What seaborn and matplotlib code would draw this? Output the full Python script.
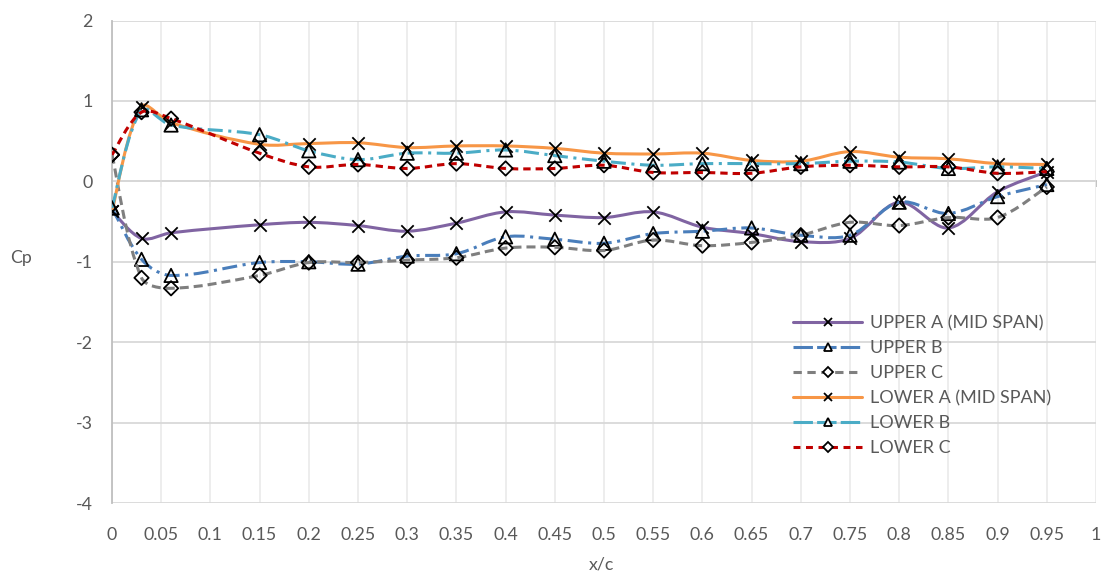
import numpy as np
import pandas as pd
import matplotlib
matplotlib.use("Agg")
import matplotlib.pyplot as plt
import seaborn as sns
from matplotlib.path import Path
from matplotlib.patches import PathPatch
from matplotlib.lines import Line2D

# ---------------- data ----------------
x_c = [0, 0.03, 0.06, 0.15, 0.2, 0.25, 0.3, 0.35, 0.4, 0.45, 0.5,
       0.55, 0.6, 0.65, 0.7, 0.75, 0.8, 0.85, 0.9, 0.95]

upper_a = [-0.37, -0.71, -0.64, -0.54, -0.51, -0.55, -0.62, -0.52, -0.38, -0.42, -0.45,
           -0.38, -0.57, -0.65, -0.75, -0.71, -0.26, -0.58, -0.13, 0.12]
upper_b = [-0.33, -0.97, -1.17, -1.01, -1.00, -1.03, -0.93, -0.90, -0.69, -0.72, -0.77,
           -0.65, -0.62, -0.58, -0.67, -0.67, -0.26, -0.40, -0.19, -0.04]
upper_c = [0.33, -1.20, -1.33, -1.17, -1.01, -1.01, -0.98, -0.95, -0.83, -0.82, -0.86,
           -0.73, -0.80, -0.76, -0.67, -0.51, -0.55, -0.45, -0.45, -0.07]
lower_a = [-0.37, 0.93, 0.73, 0.46, 0.47, 0.48, 0.42, 0.44, 0.44, 0.41, 0.35,
           0.34, 0.35, 0.26, 0.25, 0.37, 0.30, 0.28, 0.22, 0.21]
lower_b = [-0.33, 0.89, 0.70, 0.58, 0.38, 0.27, 0.35, 0.35, 0.39, 0.32, 0.25,
           0.20, 0.22, 0.22, 0.22, 0.25, 0.24, 0.16, 0.18, 0.16]
lower_c = [0.33, 0.86, 0.78, 0.35, 0.18, 0.21, 0.16, 0.22, 0.16, 0.16, 0.20,
           0.11, 0.11, 0.10, 0.18, 0.20, 0.18, 0.18, 0.10, 0.12]

series_names = ["UPPER A (MID SPAN)", "UPPER B", "UPPER C",
                "LOWER A (MID SPAN)", "LOWER B", "LOWER C"]
series_values = [upper_a, upper_b, upper_c, lower_a, lower_b, lower_c]

x_ticks = [0, 0.05, 0.1, 0.15, 0.2, 0.25, 0.3, 0.35, 0.4, 0.45, 0.5,
           0.55, 0.6, 0.65, 0.7, 0.75, 0.8, 0.85, 0.9, 0.95, 1]
x_tick_labels = ["0", "0.05", "0.1", "0.15", "0.2", "0.25", "0.3", "0.35", "0.4", "0.45",
                 "0.5", "0.55", "0.6", "0.65", "0.7", "0.75", "0.8", "0.85", "0.9", "0.95", "1"]
y_ticks = [-4, -3, -2, -1, 0, 1, 2]
y_tick_labels = ["-4", "-3", "-2", "-1", "0", "1", "2"]

# ---------------- styles ----------------
colors = ["#8064A2", "#4A7EBB", "#7F7F7F", "#F79646", "#4BACC6", "#C00000"]
dashdot = (0, (10.8, 4.0, 2.2, 4.0))
styles = ["-", dashdot, (0, (6.5, 3.6)), "-", dashdot, (0, (5.3, 3.6))]
legend_styles = ["-", (0, (14.0, 3.0)), (0, (6.0, 4.0)), "-", (0, (14.0, 3.0)), (0, (5.0, 4.0))]
markers = ["x", "^", "D", "x", "^", "D"]
msize = {"x": 8.9, "^": 9.6, "D": 7.3}

sns.set_theme(style="white")
plt.rcParams["font.family"] = ["Lato", "DejaVu Sans"]
plt.rcParams["lines.scale_dashes"] = False

W, H = 1108, 579
fig = plt.figure(figsize=(W / 100, H / 100), dpi=100)
ax = fig.add_axes([112 / W, 1 - 503 / H, (1096 - 112) / W, (503 - 20.5) / H])
ax.set_xlim(0, 1)
ax.set_ylim(-4, 2)

# pixel scale factors (used only to weight the smoothing tangents)
SX = 984.0 / 1.0
SY = 482.5 / 6.0


def smooth_path(x, y):
    pts = np.column_stack([x, y]).astype(float)
    n = len(pts)

    def dist(a, b):
        return np.hypot((a[0] - b[0]) * SX, (a[1] - b[1]) * SY)

    verts = [pts[0]]
    codes = [Path.MOVETO]
    for i in range(n - 1):
        p0 = pts[i - 1] if i > 0 else pts[i]
        p1 = pts[i]
        p2 = pts[i + 1]
        p3 = pts[i + 2] if i + 2 < n else pts[i + 1]
        d01, d12, d23 = dist(p0, p1), dist(p1, p2), dist(p2, p3)
        if i > 0:
            c1 = p1 + (p2 - p0) * d12 / (3.0 * max(d01 + d12, 1e-9))
        else:
            c1 = p1 + (p2 - p1) / 6.0
        if i + 2 < n:
            c2 = p2 - (p3 - p1) * d12 / (3.0 * max(d12 + d23, 1e-9))
        else:
            c2 = p2 - (p2 - p1) / 6.0
        verts += [c1, c2, p2]
        codes += [Path.CURVE4] * 3
    return Path(verts, codes)


for i, (name, vals) in enumerate(zip(series_names, series_values)):
    z = 3 + i * 0.1
    patch = PathPatch(smooth_path(x_c, vals), fill=False, edgecolor=colors[i],
                      linewidth=2.2, linestyle=styles[i], capstyle="butt",
                      joinstyle="round", zorder=z)
    ax.add_patch(patch)
    df = pd.DataFrame({"x": x_c, "y": vals})
    m = markers[i]
    if m == "x":
        sns.scatterplot(data=df, x="x", y="y", marker="x", color="black",
                        s=msize[m] ** 2, linewidth=1.3, ax=ax, zorder=z + 0.05)
    else:
        sns.scatterplot(data=df, x="x", y="y", marker=m, facecolor="none",
                        edgecolor="black", s=msize[m] ** 2, linewidth=1.3,
                        ax=ax, zorder=z + 0.05)

# ---------------- axes cosmetics ----------------
ax.set_xticks(x_ticks)
ax.set_xticklabels(x_tick_labels)
ax.set_yticks(y_ticks)
ax.set_yticklabels(y_tick_labels)
ax.set_xlim(0, 1)
ax.set_ylim(-4, 2)

ax.yaxis.grid(True, color="#D9D9D9", linewidth=1.3, zorder=0)
ax.xaxis.grid(True, color="#ECECEC", linewidth=1.3, zorder=0)
ax.set_axisbelow(True)

for s in ["top", "right", "bottom"]:
    ax.spines[s].set_visible(False)
ax.spines["left"].set_color("#BFBFBF")
ax.spines["left"].set_linewidth(1.3)
ax.spines["left"].set_zorder(1)

tick_color = "#595959"
ax.tick_params(axis="x", length=0, pad=17.5, labelsize=12.8, labelcolor=tick_color)
ax.tick_params(axis="y", length=4.3, width=1.3, color="#BFBFBF", direction="out",
               pad=9.5, labelsize=12.8, labelcolor=tick_color)

# horizontal axis line crossing at y = 0
sec = ax.secondary_xaxis(4 / 6)
sec.set_alignment("bottom")
sec.set_xticks(x_ticks)
sec.tick_params(axis="x", direction="out", length=4.3, width=1.3, color="#BFBFBF",
                labelbottom=False, labeltop=False)
sec.spines["bottom"].set_color("#BFBFBF")
sec.spines["bottom"].set_linewidth(1.3)
sec.spines["top"].set_visible(False)

ax.set_xlabel("x/c", fontsize=12.8, color=tick_color, va="center")
ax.xaxis.set_label_coords((601 - 112) / 984, (503 - 565) / 482.5)
ax.set_ylabel("Cp", fontsize=12.8, color=tick_color, rotation=0, va="center", ha="center")
ax.yaxis.set_label_coords((21 - 112) / 984, (503 - 258) / 482.5)

# ---------------- legend ----------------
handles = []
for i, name in enumerate(series_names):
    handles.append(Line2D([], [], color=colors[i], linewidth=2.2, linestyle=legend_styles[i],
                          marker=markers[i], markersize=6 if markers[i] != "D" else 5,
                          markerfacecolor="white", markeredgecolor="black",
                          markeredgewidth=1.3, dash_capstyle="butt"))
fs = 13.0
fs_px = fs * 100 / 72
leg = fig.legend(handles=handles, labels=series_names, loc="upper left",
                 bbox_to_anchor=(793 / W, 1 - 315 / H), bbox_transform=fig.transFigure,
                 frameon=False, borderpad=0, borderaxespad=0,
                 handlelength=69 / fs_px, handletextpad=8 / fs_px,
                 labelspacing=0.5, fontsize=fs, labelcolor=tick_color)

fig.savefig("out.png", dpi=100)
